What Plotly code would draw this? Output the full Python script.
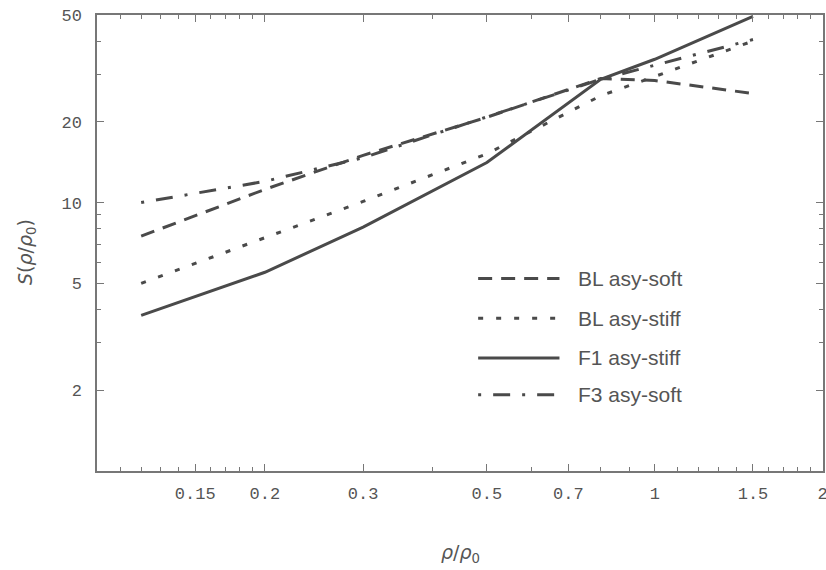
import plotly.graph_objects as go

# ---- data ----
density = [0.12, 0.2, 0.3, 0.5, 0.8, 1.0, 1.5]
bl_asy_soft = [7.5, 11.2, 15.0, 20.8, 29.0, 28.5, 25.5]
bl_asy_stiff = [5.0, 7.4, 10.1, 15.2, 25.0, 29.5, 40.0]
f1_asy_stiff = [3.8, 5.5, 8.1, 14.1, 28.8, 34.2, 49.4]
f3_asy_soft = [10.0, 12.0, 14.7, 20.8, 28.8, 32.5, 40.5]

series_names = ["BL asy-soft", "BL asy-stiff", "F1 asy-stiff", "F3 asy-soft"]
series_values = [bl_asy_soft, bl_asy_stiff, f1_asy_stiff, f3_asy_soft]

x_major = [0.15, 0.2, 0.3, 0.5, 0.7, 1, 1.5, 2]
x_major_text = ["0.15", "0.2", "0.3", "0.5", "0.7", "1", "1.5", "2"]
x_minor = [0.1, 0.11, 0.12, 0.13, 0.14, 0.16, 0.17, 0.18, 0.19, 0.4, 0.6, 0.8, 0.9,
           1.1, 1.2, 1.3, 1.4, 1.6, 1.7, 1.8, 1.9]
y_major = [2, 5, 10, 20, 50]
y_major_text = ["2", "5", "10", "20", "50"]
y_minor = [1, 3, 4, 6, 7, 8, 9, 30, 40]

# ---- styles ----
LINE_COLOR = "#4a4a4a"
TEXT_COLOR = "#555555"
AXIS_COLOR = "#777777"
dashes = ["14px,9px", "5px,13px", "solid", "3px,12px,17px,12px"]

fig = go.Figure()
for name, vals, dash in zip(series_names, series_values, dashes):
    fig.add_trace(go.Scatter(
        x=density, y=vals, mode="lines", name=name,
        line=dict(color=LINE_COLOR, width=3, dash=dash),
        showlegend=False,
    ))

tick_font = dict(family="Liberation Mono, Courier New, monospace", size=17, color=TEXT_COLOR)

fig.update_xaxes(
    type="log", range=[-1, 0.3016], automargin=False,
    tickmode="array", tickvals=x_major, ticktext=x_major_text,
    ticks="inside", ticklen=7, tickwidth=1, tickcolor=AXIS_COLOR,
    minor=dict(tickmode="array", tickvals=x_minor, ticks="inside", ticklen=4,
               tickwidth=1, tickcolor=AXIS_COLOR, showgrid=False),
    showline=True, linecolor=AXIS_COLOR, linewidth=1.5, mirror="allticks",
    showgrid=False, zeroline=False, tickfont=tick_font, ticklabelstandoff=6,
    ticklabeloverflow="allow",
)
fig.update_yaxes(
    type="log", range=[0, 1.69897], automargin=False,
    tickmode="array", tickvals=y_major, ticktext=y_major_text,
    ticks="inside", ticklen=7, tickwidth=1, tickcolor=AXIS_COLOR,
    minor=dict(tickmode="array", tickvals=y_minor, ticks="inside", ticklen=4,
               tickwidth=1, tickcolor=AXIS_COLOR, showgrid=False),
    showline=True, linecolor=AXIS_COLOR, linewidth=1.5, mirror="allticks",
    showgrid=False, zeroline=False, tickfont=tick_font, ticklabelstandoff=10,
    ticklabeloverflow="allow",
)

# ---- legend drawn inside the plot ----
legend_rows_y = [0.422, 0.335, 0.248, 0.167]
for name, dash, ly in zip(series_names, dashes, legend_rows_y):
    fig.add_shape(type="line", xref="paper", yref="paper",
                  x0=0.525, x1=0.637, y0=ly, y1=ly,
                  line=dict(color=LINE_COLOR, width=3, dash=dash))
    fig.add_annotation(xref="paper", yref="paper", x=0.660, y=ly,
                       xanchor="left", yanchor="middle", showarrow=False,
                       text=name,
                       font=dict(family="Liberation Sans, Arial, sans-serif", size=21, color=TEXT_COLOR))

# ---- axis titles ----
fig.add_annotation(xref="paper", yref="paper", x=0.5, y=-0.18,
                   xanchor="center", yanchor="middle", showarrow=False,
                   text="<i>ρ</i>/<i>ρ</i><sub>0</sub>",
                   font=dict(family="DejaVu Sans, sans-serif", size=19, color=TEXT_COLOR))
fig.add_annotation(xref="paper", yref="paper", x=-0.098, y=0.48,
                   xanchor="center", yanchor="middle", showarrow=False, textangle=-90,
                   text="<i>S</i>(<i>ρ</i>/<i>ρ</i><sub>0</sub>)",
                   font=dict(family="DejaVu Sans, sans-serif", size=19, color=TEXT_COLOR))

fig.update_layout(
    width=826, height=570,
    margin=dict(l=97, r=3, t=15, b=99, autoexpand=False),
    paper_bgcolor="white", plot_bgcolor="white",
    showlegend=False,
)

fig.write_html("out.html",
               config={"displayModeBar": False},
               post_script="document.body.style.margin='0';document.body.style.overflow='hidden';")
